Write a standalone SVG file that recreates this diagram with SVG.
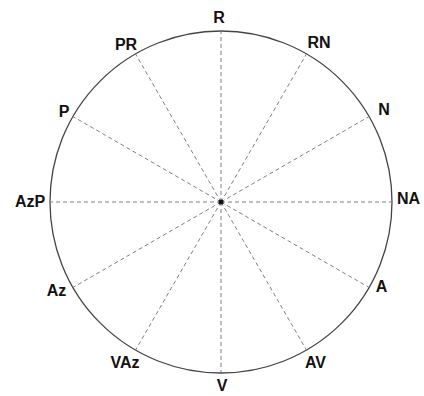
<svg xmlns="http://www.w3.org/2000/svg" width="424" height="396" viewBox="0 0 424 396">
<style>
.lbl{font-family:"Liberation Sans",Arial,sans-serif;font-weight:bold;font-size:16px;fill:#111;text-anchor:middle}
.spoke{stroke:#7a7f88;stroke-width:1;stroke-dasharray:4 3;fill:none}
.rim{stroke:#444;stroke-width:1.3;fill:none}
</style>
<rect width="424" height="396" fill="#fff"/>
<g id="circle"><circle class="rim" cx="221" cy="202" r="171"/></g>
<g id="connectors">
<line class="spoke" x1="221" y1="202" x2="221" y2="31"/>
<line class="spoke" x1="221" y1="202" x2="306.5" y2="53.9"/>
<line class="spoke" x1="221" y1="202" x2="369.1" y2="116.5"/>
<line class="spoke" x1="221" y1="202" x2="392" y2="202"/>
<line class="spoke" x1="221" y1="202" x2="369.1" y2="287.5"/>
<line class="spoke" x1="221" y1="202" x2="306.5" y2="350.1"/>
<line class="spoke" x1="221" y1="202" x2="221" y2="373"/>
<line class="spoke" x1="221" y1="202" x2="135.5" y2="350.1"/>
<line class="spoke" x1="221" y1="202" x2="72.9" y2="287.5"/>
<line class="spoke" x1="221" y1="202" x2="50" y2="202"/>
<line class="spoke" x1="221" y1="202" x2="72.9" y2="116.5"/>
<line class="spoke" x1="221" y1="202" x2="135.5" y2="53.9"/>
</g>
<g id="center"><circle cx="221" cy="202" r="2.5" fill="#111"/></g>
<g id="R"><text class="lbl" x="219" y="23">R</text></g>
<g id="RN"><text class="lbl" x="319" y="48">RN</text></g>
<g id="N"><text class="lbl" x="384" y="115">N</text></g>
<g id="NA"><text class="lbl" x="397" y="204" style="text-anchor:start">NA</text></g>
<g id="A"><text class="lbl" x="381.5" y="292">A</text></g>
<g id="AV"><text class="lbl" x="315.5" y="368">AV</text></g>
<g id="V"><text class="lbl" x="222" y="391">V</text></g>
<g id="VAz"><text class="lbl" x="125" y="368">VAz</text></g>
<g id="Az"><text class="lbl" x="56.5" y="296">Az</text></g>
<g id="AzP"><text class="lbl" x="30" y="207">AzP</text></g>
<g id="P"><text class="lbl" x="64" y="117">P</text></g>
<g id="PR"><text class="lbl" x="126" y="50">PR</text></g>
</svg>
